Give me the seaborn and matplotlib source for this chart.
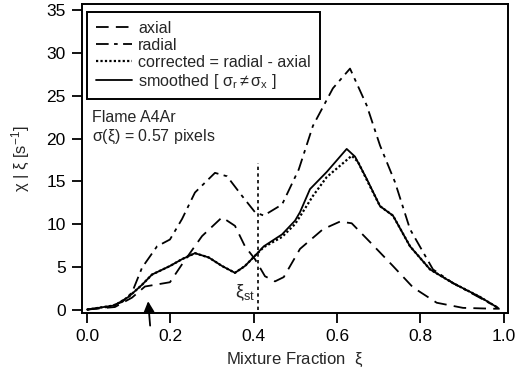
import matplotlib
matplotlib.use("Agg")
import matplotlib.pyplot as plt
import seaborn as sns
import numpy as np

# ---- data ----
axial_x = [0.0, 0.067, 0.108, 0.139, 0.199, 0.228, 0.276, 0.324, 0.355, 0.379, 0.403, 0.427,
           0.451, 0.472, 0.511, 0.566, 0.607, 0.635, 0.679, 0.734, 0.782, 0.839, 0.902, 0.974, 0.99]
axial_y = [0.0, 0.3, 1.4, 2.7, 3.2, 5.3, 8.6, 10.8, 9.8, 7.4, 5.9, 3.9,
           3.3, 3.8, 7.1, 9.4, 10.3, 10.1, 7.9, 5.1, 2.6, 0.8, 0.2, 0.1, 0.1]

radial_x = [0.0, 0.05, 0.085, 0.108, 0.132, 0.168, 0.199, 0.228, 0.259, 0.307, 0.336, 0.372,
            0.403, 0.424, 0.468, 0.508, 0.542, 0.59, 0.631, 0.671, 0.703, 0.739, 0.775, 0.83,
            0.878, 0.942, 0.986]
radial_y = [0.0, 0.3, 0.9, 2.0, 4.9, 7.4, 8.2, 10.6, 13.7, 16.0, 15.6, 13.3,
            11.4, 11.0, 12.3, 16.4, 21.5, 25.9, 28.2, 23.9, 19.2, 14.9, 9.4, 4.7,
            3.1, 1.4, 0.2]

corr_x = [0.0, 0.067, 0.1, 0.132, 0.156, 0.199, 0.228, 0.259, 0.292, 0.324, 0.355, 0.379,
          0.403, 0.424, 0.468, 0.499, 0.511, 0.542, 0.575, 0.635, 0.65, 0.671, 0.703, 0.734,
          0.775, 0.823, 0.878, 0.942, 0.986]
corr_y = [0.0, 0.5, 1.5, 2.9, 4.1, 5.1, 5.9, 6.6, 6.1, 5.1, 4.3, 5.1,
          6.3, 7.3, 8.5, 10.0, 10.9, 13.3, 15.5, 18.0, 17.3, 15.2, 12.1, 11.0,
          7.4, 4.7, 3.1, 1.5, 0.2]

smooth_x = [0.0, 0.067, 0.1, 0.132, 0.156, 0.199, 0.228, 0.259, 0.292, 0.324, 0.355, 0.379,
            0.403, 0.424, 0.468, 0.499, 0.511, 0.535, 0.575, 0.623, 0.643, 0.671, 0.703, 0.734,
            0.775, 0.823, 0.878, 0.942, 0.986]
smooth_y = [0.0, 0.5, 1.5, 2.9, 4.1, 5.1, 5.9, 6.6, 6.1, 5.1, 4.3, 5.1,
            6.3, 7.4, 8.8, 10.4, 11.4, 14.1, 16.1, 18.8, 17.9, 15.3, 12.1, 11.0,
            7.4, 4.7, 3.1, 1.5, 0.2]

xi_st = 0.41
arrow_xi = 0.146

x_ticks = [0.0, 0.2, 0.4, 0.6, 0.8, 1.0]
y_ticks = [0, 5, 10, 15, 20, 25, 30, 35]

sns.set_style("ticks")
plt.rcParams['font.family'] = ['Liberation Sans', 'DejaVu Sans']
plt.rcParams['mathtext.fontset'] = 'custom'
plt.rcParams['mathtext.rm'] = 'Liberation Sans'
plt.rcParams['mathtext.it'] = 'Liberation Sans'

fig = plt.figure(figsize=(5.28, 3.78), dpi=100)
ax = fig.add_axes([82 / 528, 1 - 313 / 378, (508 - 82) / 528, (313 - 4) / 378])

sns.lineplot(x=axial_x, y=axial_y, ax=ax, color='k', lw=1.3, sort=False,
             linestyle=(0, (7, 4)), label='axial')
sns.lineplot(x=radial_x, y=radial_y, ax=ax, color='k', lw=1.3, sort=False,
             linestyle=(0, (7, 3, 2, 3)), label='radial')
sns.lineplot(x=corr_x, y=corr_y, ax=ax, color='k', lw=1.6, sort=False,
             linestyle=(0, (1, 1)), label='corrected = radial - axial')
sns.lineplot(x=smooth_x, y=smooth_y, ax=ax, color='k', lw=1.3, sort=False,
             linestyle='-', label=r'smoothed [ $\sigma_{\rm r} \neq \sigma_{\rm x}$ ]')

ax.plot([xi_st, xi_st], [0, 17.2], color='k', lw=1.2, linestyle=(0, (2, 2)))
ax.text(0.378, 2.0, r'$\xi_{\rm st}$', ha='center', va='center', fontsize=13)

ax.annotate('', xy=(arrow_xi, 1.3), xytext=(arrow_xi + 0.006, -2.2),
            arrowprops=dict(arrowstyle='-|>', color='k', lw=1.3, mutation_scale=16),
            annotation_clip=False)

ax.text(0.012, 23.3, 'Flame A4Ar\n' + r'$\sigma(\xi)$ = 0.57 pixels',
        ha='left', va='top', fontsize=11.5, linespacing=1.15)

ax.set_xlim(-0.012, 1.01)
ax.set_ylim(-0.4, 35.76)
ax.set_xticks(x_ticks)
ax.set_xticklabels([f'{v:.1f}' for v in x_ticks])
ax.set_yticks(y_ticks)
ax.tick_params(direction='out', length=7.2, width=1.3, labelsize=12.5, colors='k', pad=4.5)
for s in ax.spines.values():
    s.set_linewidth(1.4)
    s.set_color('k')

ax.set_xlabel(r'Mixture Fraction  $\xi$', fontsize=12, labelpad=5)
ax.set_ylabel(r'$\chi$ | $\xi$ [s$^{-1}$]', fontsize=12, labelpad=10)

leg = ax.legend(loc='upper left', bbox_to_anchor=(0.005, 0.985), frameon=True, fancybox=False,
                fontsize=11.6, handlelength=2.2, handletextpad=0.4, borderpad=0.55,
                labelspacing=0.12, borderaxespad=0.2)
leg.get_frame().set_edgecolor('k')
leg.get_frame().set_linewidth(1.4)
leg.get_frame().set_alpha(1)

fig.savefig('out.png', dpi=100)
